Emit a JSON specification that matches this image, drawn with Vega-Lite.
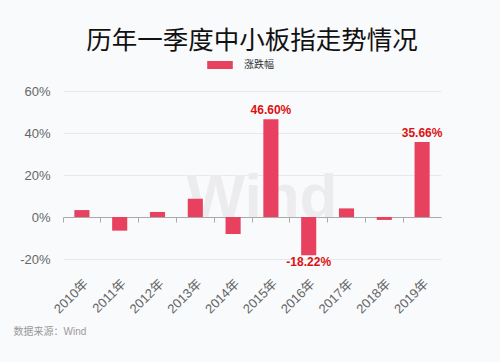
{
  "$schema": "https://vega.github.io/schema/vega-lite/v6.json",
  "width": 378,
  "height": 168,
  "autosize": {"type": "none"},
  "padding": {"left": 63, "top": 91, "right": 59, "bottom": 103},
  "background": "#f9fafc",
  "config": {"view": {"stroke": null}, "font": "Liberation Sans, Noto Sans CJK SC"},
  "title": {"text": "历年一季度中小板指走势情况", "fontSize": 25.5, "font": "Noto Sans CJK SC", "fontWeight": "normal", "color": "#111", "anchor": "middle", "offset": -2},
  "data": {"values": [
    {"year": "2010年", "v": 3.3, "label": ""},
    {"year": "2011年", "v": -6.5, "label": ""},
    {"year": "2012年", "v": 2.4, "label": ""},
    {"year": "2013年", "v": 8.7, "label": ""},
    {"year": "2014年", "v": -8.1, "label": ""},
    {"year": "2015年", "v": 46.6, "label": "46.60%"},
    {"year": "2016年", "v": -18.22, "label": "-18.22%"},
    {"year": "2017年", "v": 4.1, "label": ""},
    {"year": "2018年", "v": -1.4, "label": ""},
    {"year": "2019年", "v": 35.66, "label": "35.66%"}
  ]},
  "encoding": {
    "y": {"field": "v", "type": "quantitative", "scale": {"domain": [-20, 60], "nice": false, "zero": false},
      "axis": {"values": [-20, 0, 20, 40, 60], "labelExpr": "datum.value + '%'", "domain": false, "ticks": false, "grid": true, "gridColor": "#e8e8ea", "labelColor": "#666", "labelFontSize": 13, "labelPadding": 13, "title": null}}
  },
  "layer": [
    {
      "data": {"values": [{"year": "2015年", "v": 0, "t": "Wind"}]},
      "mark": {"type": "text", "fontSize": 62, "fontWeight": "bold", "color": "#ececee", "baseline": "alphabetic", "align": "center", "dx": -9, "font": "Liberation Sans"},
      "encoding": {
        "x": {"field": "year", "type": "nominal", "axis": null, "scale": {"paddingInner": 0, "paddingOuter": 0}},
        "text": {"field": "t"}
      }
    },
    {
      "mark": {"type": "bar", "width": {"band": 0.4}},
      "encoding": {
        "x": {"field": "year", "type": "nominal", "scale": {"paddingInner": 0, "paddingOuter": 0},
          "axis": {"orient": "bottom", "offset": -42, "labels": false, "domain": true, "domainColor": "#aaa", "ticks": true, "tickColor": "#aaa", "tickSize": 5, "bandPosition": 0, "title": null, "grid": false}},
        "color": {"datum": "涨跌幅", "type": "nominal", "scale": {"range": ["#e8415f"]},
          "legend": {"orient": "none", "legendX": 144, "legendY": -39, "title": null, "symbolType": "M-1,-0.3125H1V0.3125H-1Z", "symbolSize": 655, "symbolStrokeWidth": 0, "symbolOpacity": 1, "labelFontSize": 10, "labelColor": "#333", "labelOffset": 11, "padding": 0}}
      }
    },
    {
      "transform": [{"filter": "datum.v > 0"}],
      "mark": {"type": "text", "baseline": "bottom", "dy": -2, "fontSize": 12, "fontWeight": "bold", "color": "#dd1111"},
      "encoding": {
        "x": {"field": "year", "type": "nominal",
          "axis": {"orient": "bottom", "labelAngle": -45, "labelFontSize": 13, "labelColor": "#666", "labelPadding": 18, "domain": false, "ticks": false, "grid": false,
            "title": "数据来源：Wind", "titleAnchor": "start", "titleAlign": "left", "titleX": -50, "titleY": 72, "titleBaseline": "middle", "titleFontSize": 10, "titleColor": "#999", "titleFontWeight": "normal"}},
        "text": {"field": "label"}
      }
    },
    {
      "transform": [{"filter": "datum.v < 0"}],
      "mark": {"type": "text", "baseline": "top", "dy": 2, "fontSize": 12, "fontWeight": "bold", "color": "#dd1111"},
      "encoding": {
        "x": {"field": "year", "type": "nominal", "axis": null},
        "text": {"field": "label"}
      }
    }
  ],
  "resolve": {"axis": {"x": "independent"}}
}
